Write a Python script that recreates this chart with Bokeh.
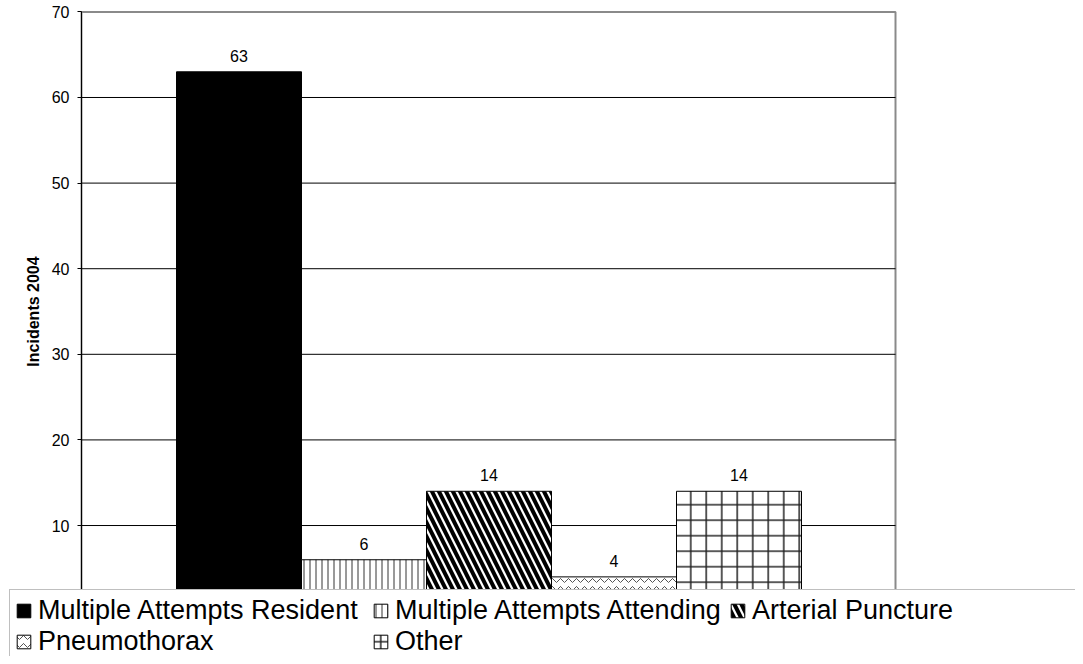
from bokeh.plotting import figure
from bokeh.models import (ColumnDataSource, Range1d, FixedTicker, Legend,
                          LegendItem, LabelSet, BoxAnnotation)
from bokeh.core.properties import value
from bokeh.embed import file_html
from bokeh.resources import INLINE

# ---- data ----
categories = ["Multiple Attempts Resident", "Multiple Attempts Attending",
              "Arterial Puncture", "Pneumothorax", "Other"]
incidents = [63, 6, 14, 4, 14]
y_ticks = [0, 10, 20, 30, 40, 50, 60, 70]
y_label = "Incidents 2004"

# ---- styles ----
fill_colors = ["black", "white", "white", "white", "white"]
hatch_patterns = [" ", "vertical_line", "left_diagonal_line", "horizontal_wave", "cross"]
hatch_colors = ["black", "#333333", "black", "#555555", "#222222"]
hatch_scales = [12, 6, 14, 8, 15.5]
hatch_weights = [1, 1, 4, 1, 1.5]

FONT = "Liberation Sans"

# plot-area extent in data units (the canvas shows a margin around it,
# and the legend box covers the bottom strip of the plot area)
area_x = (-1.26, 5.252)
view_x = (-1.908, 6.692)
view_y = (-5.30, 71.33)

src = ColumnDataSource(dict(
    x=list(range(len(categories))),
    top=incidents,
    label=[str(v) for v in incidents],
    name=categories,
    fill=fill_colors,
    hp=hatch_patterns,
    hc=hatch_colors,
    hs=hatch_scales,
    hw=hatch_weights,
))

grid_vals = y_ticks[1:-1]
grid_src = ColumnDataSource(dict(
    x0=[area_x[0]] * len(grid_vals),
    x1=[area_x[1]] * len(grid_vals),
    y=grid_vals,
))

p = figure(width=1075, height=656, output_backend="svg", toolbar_location=None,
           x_range=Range1d(*view_x), y_range=Range1d(*view_y),
           min_border_left=0, min_border_right=0, min_border_top=0,
           min_border_bottom=0)
p.background_fill_color = "white"
p.border_fill_color = "white"
p.outline_line_color = None

# plot-area border (grey), drawn under everything
frame_box = BoxAnnotation(left=area_x[0], right=area_x[1],
                          bottom=y_ticks[0], top=y_ticks[-1],
                          fill_alpha=0, line_color="#8a8a8a", line_alpha=1.0,
                          line_width=2, level="underlay")
p.add_layout(frame_box)

# horizontal gridlines limited to the plot area
p.segment(x0="x0", x1="x1", y0="y", y1="y", source=grid_src,
          line_color="black", line_width=1)

r = p.vbar(x="x", top="top", bottom=0, width=1, source=src,
           fill_color="fill", line_color="black", line_width=1,
           hatch_pattern="hp", hatch_color="hc", hatch_scale="hs",
           hatch_weight="hw")

labels = LabelSet(x="x", y="top", text="label", source=src,
                  text_align="center", text_baseline="alphabetic", y_offset=10,
                  text_font=value(FONT), text_font_size="16px", text_color="black")
p.add_layout(labels)

p.xaxis.visible = False
p.grid.visible = False

ax = p.yaxis[0]
ax.fixed_location = area_x[0]
ax.bounds = (y_ticks[0], y_ticks[-1])
ax.ticker = FixedTicker(ticks=y_ticks)
ax.axis_line_color = "black"
ax.major_tick_line_color = "black"
ax.major_tick_out = 4
ax.major_tick_in = 0
ax.minor_tick_line_color = None
ax.major_label_text_font = FONT
ax.major_label_text_font_size = "16px"
ax.major_label_text_color = "black"
ax.major_label_standoff = 8
ax.axis_label = y_label
ax.axis_label_text_font = FONT
ax.axis_label_text_font_size = "16px"
ax.axis_label_text_font_style = "bold"
ax.axis_label_text_color = "black"
ax.axis_label_standoff = 7

items = [LegendItem(label=c, renderers=[r], index=i) for i, c in enumerate(categories)]
legend = Legend(items=items, orientation="horizontal", ncols=3,
                location=(9, -7), margin=0, padding=5, spacing=0,
                glyph_width=17, glyph_height=17, label_standoff=6,
                label_width=334,
                label_text_font=FONT, label_text_font_size="27px",
                label_text_color="black",
                border_line_color="#808080", border_line_width=1,
                background_fill_color="white", background_fill_alpha=1.0)
p.add_layout(legend, "center")

open("out.html", "w").write(file_html(p, INLINE))
